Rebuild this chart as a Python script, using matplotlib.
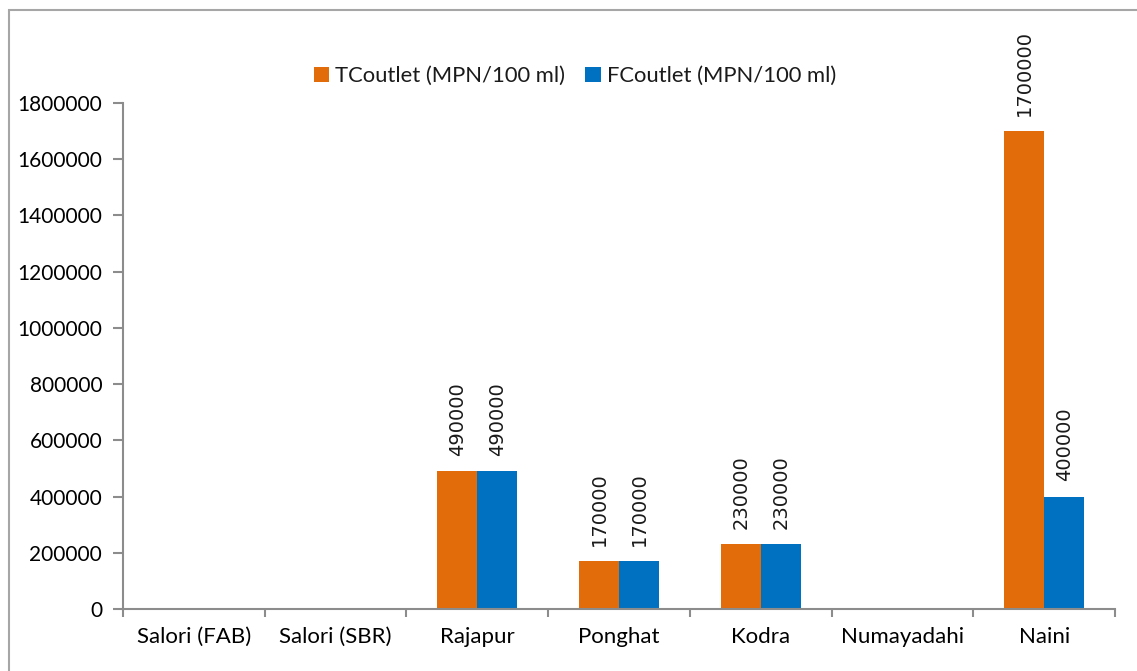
import matplotlib.pyplot as plt
import numpy as np
from matplotlib.patches import Rectangle

sites = ['Salori (FAB)', 'Salori (SBR)', 'Rajapur', 'Ponghat', 'Kodra', 'Numayadahi', 'Naini']
tc_outlet = [0, 0, 490000, 170000, 230000, 0, 1700000]
fc_outlet = [0, 0, 490000, 170000, 230000, 0, 400000]
series_names = ['TCoutlet (MPN/100 ml)', 'FCoutlet (MPN/100 ml)']
y_ticks = [0, 200000, 400000, 600000, 800000, 1000000, 1200000, 1400000, 1600000, 1800000]

orange = '#E36C0A'
blue = '#0070C0'
gray = '#8C8C8C'

plt.rcParams['font.family'] = ['Lato', 'DejaVu Sans']
plt.rcParams['text.color'] = '#1A1A1A'

fig = plt.figure(figsize=(11.37, 6.71), dpi=100)
ax = fig.add_axes([0.1082, 0.0924, 0.8725, 0.7541])

# chart border
fig.patches.append(Rectangle((9/1137, -0.05), 1.2, 1 - 10/671 + 0.05, transform=fig.transFigure,
                             fill=False, edgecolor='#A6A6A6', linewidth=1.5))

x = np.arange(len(sites))
w = 0.283
b1 = ax.bar(x - w/2, tc_outlet, w, color=orange, label=series_names[0])
b2 = ax.bar(x + w/2, fc_outlet, w, color=blue, label=series_names[1])

# data labels (skip zeros)
for bars, vals in [(b1, tc_outlet), (b2, fc_outlet)]:
    for bar, v in zip(bars, vals):
        if v == 0:
            continue
        ax.annotate(str(v), (bar.get_x() + bar.get_width()/2, v), xytext=(0, 11),
                    textcoords='offset points', rotation=90, ha='center', va='bottom',
                    fontsize=14, family='DejaVu Sans')

ax.set_xlim(-0.5, len(sites) - 0.5)
ax.set_ylim(0, 1800000)
ax.set_yticks(y_ticks)
ax.set_yticklabels([str(t) for t in y_ticks], fontsize=15)
ax.set_xticks(x)
ax.set_xticklabels(sites, fontsize=16)
ax.tick_params(axis='x', length=0, pad=13)
ax.tick_params(axis='y', length=7, width=1.5, color=gray, pad=8)
ax.set_xticks(np.arange(len(sites) + 1) - 0.5, minor=True)
ax.tick_params(axis='x', which='minor', length=6, width=1.5, color=gray)

for s in ['top', 'right']:
    ax.spines[s].set_visible(False)
for s in ['left', 'bottom']:
    ax.spines[s].set_color(gray)
    ax.spines[s].set_linewidth(1.5)

ax.legend(loc='center', bbox_to_anchor=(575/1137, 1 - 76/671), bbox_transform=fig.transFigure,
          ncol=2, frameon=False, fontsize=15.8, handlelength=0.7, handleheight=0.7,
          handletextpad=0.3, columnspacing=0.9)

fig.savefig('out.png', dpi=100)
